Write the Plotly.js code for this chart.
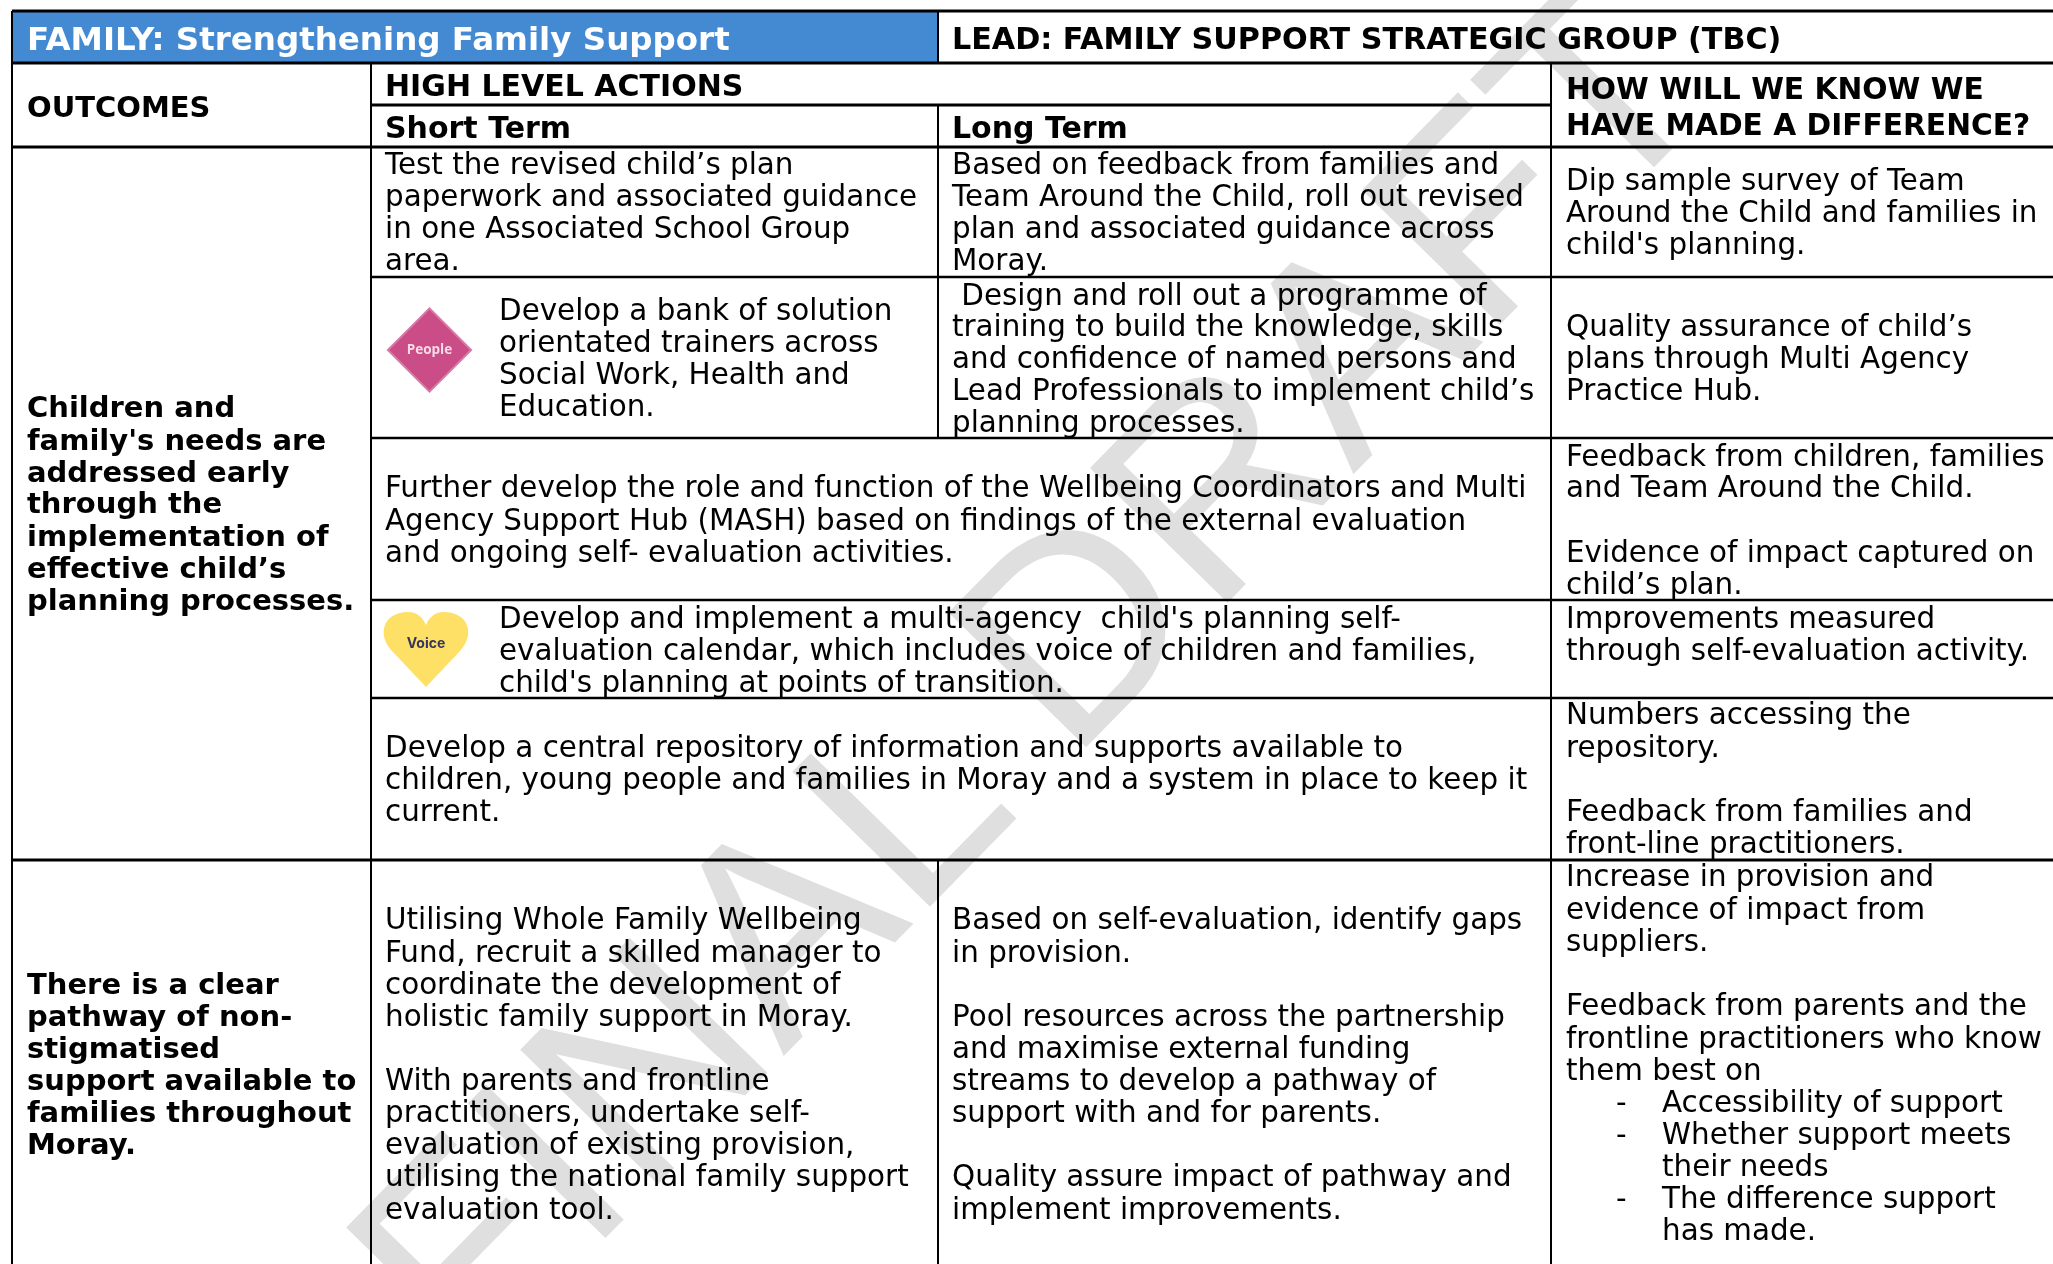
<!DOCTYPE html>
<html>
<head>
<meta charset="utf-8">
<script src="https://cdn.plot.ly/plotly-3.0.1.min.js"></script>
<style>
html,body{margin:0;padding:0;background:#fff}
#chart{width:2053px;height:1264px}
.main-svg:not(:first-child){mix-blend-mode:multiply}
</style>
</head>
<body>
<div id="chart"></div>
<script>
// ---- table text ----
const headerFamily = ["FAMILY: Strengthening Family Support"];
const headerLead = ["LEAD: FAMILY SUPPORT STRATEGIC GROUP (TBC)"];
const headerOutcomes = ["OUTCOMES"];
const headerActions = ["HIGH LEVEL ACTIONS"];
const headerShort = ["Short Term"];
const headerLong = ["Long Term"];
const headerKnow = ["HOW WILL WE KNOW WE", "HAVE MADE A DIFFERENCE?"];
const outcomeChildren = ["Children and", "family's needs are", "addressed early", "through the", "implementation of", "effective child’s", "planning processes."];
const outcomePathway = ["There is a clear", "pathway of non-", "stigmatised", "support available to", "families throughout", "Moray."];
const shortTest = ["Test the revised child’s plan", "paperwork and associated guidance", "in one Associated School Group", "area."];
const longBased = ["Based on feedback from families and", "Team Around the Child, roll out revised", "plan and associated guidance across", "Moray."];
const knowDip = ["Dip sample survey of Team", "Around the Child and families in", "child's planning."];
const shortBank = ["Develop a bank of solution", "orientated trainers across", "Social Work, Health and", "Education."];
const longDesign = ["\u00a0Design and roll out a programme of", "training to build the knowledge, skills", "and confidence of named persons and", "Lead Professionals to implement child’s", "planning processes."];
const knowQuality = ["Quality assurance of child’s", "plans through Multi Agency", "Practice Hub."];
const actionFurther = ["Further develop the role and function of the Wellbeing Coordinators and Multi", "Agency Support Hub (MASH) based on findings of the external evaluation", "and ongoing self- evaluation activities."];
const knowFeedback = ["Feedback from children, families", "and Team Around the Child.", "Evidence of impact captured on", "child’s plan."];
const actionCalendar = ["Develop and implement a multi-agency  child's planning self-", "evaluation calendar, which includes voice of children and families,", "child's planning at points of transition."];
const knowImprove = ["Improvements measured", "through self-evaluation activity."];
const actionRepo = ["Develop a central repository of information and supports available to", "children, young people and families in Moray and a system in place to keep it", "current."];
const knowNumbers = ["Numbers accessing the", "repository.", "Feedback from families and", "front-line practitioners."];
const shortFund = ["Utilising Whole Family Wellbeing", "Fund, recruit a skilled manager to", "coordinate the development of", "holistic family support in Moray.", "With parents and frontline", "practitioners, undertake self-", "evaluation of existing provision,", "utilising the national family support", "evaluation tool."];
const longGaps = ["Based on self-evaluation, identify gaps", "in provision.", "Pool resources across the partnership", "and maximise external funding", "streams to develop a pathway of", "support with and for parents.", "Quality assure impact of pathway and", "implement improvements."];
const knowIncrease = ["Increase in provision and", "evidence of impact from", "suppliers.", "Feedback from parents and the", "frontline practitioners who know", "them best on"];
const knowBullets = ["Accessibility of support", "Whether support meets", "their needs", "The difference support", "has made."];
const bulletDashes = ["-", "-", "-"];
const watermarkText = "FINAL DRAFT";
const iconPeople = "People";
const iconVoice = "Voice";

// ---- layout of the table, in page pixels ----
const X = {left: 12, a: 371, b: 938, c: 1551, right: 2053};
const Y = {top: 11, h1: 63, h2: 105, h3: 147, r1: 277, r2: 438, r3: 600, r4: 698, r5: 860, bottom: 1264};
const BLACK = "#000000";
const FS = 29.4, FS_HEAD = 30, FS_OUT = 29;
const DY = 2.5;
const FONT = "DejaVu Sans";

const blocks = [
  [headerFamily, 27, [39], true, "#ffffff", 32.5],
  [headerLead, 952, [39], true, BLACK, 30.2],
  [headerOutcomes, 27, [107], true, BLACK, FS_OUT],
  [headerActions, 385, [86], true, BLACK, FS_HEAD],
  [headerShort, 385, [128], true, BLACK, FS_HEAD],
  [headerLong, 952, [128], true, BLACK, FS_HEAD],
  [headerKnow, 1566, [89, 125], true, BLACK, 29.7],
  [outcomeChildren, 27, [407, 440, 472, 503, 536, 568, 600], true, BLACK, FS_OUT],
  [outcomePathway, 27, [984, 1016, 1048, 1080, 1112, 1144], true, BLACK, FS_OUT],
  [shortTest, 385, [164, 196, 228, 260]],
  [longBased, 952, [164, 196, 228, 260]],
  [knowDip, 1566, [180, 212, 244]],
  [shortBank, 499, [310, 342, 374, 406]],
  [longDesign, 952, [295, 326, 358, 390, 422]],
  [knowQuality, 1566, [326, 358, 390]],
  [actionFurther, 385, [487, 520, 552]],
  [knowFeedback, 1566, [456, 487, 552, 584]],
  [actionCalendar, 499, [618, 650, 682]],
  [knowImprove, 1566, [618, 650]],
  [actionRepo, 385, [747, 779, 811]],
  [knowNumbers, 1566, [714, 747, 811, 843]],
  [shortFund, 385, [919, 952, 984, 1016, 1080, 1112, 1144, 1176, 1209]],
  [longGaps, 952, [919, 952, 1016, 1048, 1080, 1112, 1176, 1209]],
  [knowIncrease, 1566, [876, 909, 941, 1005, 1038, 1070]],
  [knowBullets, 1662, [1102, 1134, 1166, 1198, 1230]],
  [bulletDashes, 1616, [1102, 1134, 1198]]
];

const traces = blocks.map(([lines, x, ys, bold, color, size]) => ({
  type: "scatter", mode: "text", showlegend: false, hoverinfo: "skip", cliponaxis: false,
  x: ys.map(() => x), y: ys.map(v => v + DY), text: lines, textposition: "middle right",
  textfont: {family: FONT, size: size || FS, color: color || BLACK, weight: bold ? 700 : 400}
}));

// People diamond
traces.unshift({
  type: "scatter", mode: "markers", showlegend: false, hoverinfo: "skip",
  x: [429.5], y: [350],
  marker: {symbol: "diamond", size: 64, color: "#cb4d87", line: {width: 2, color: "#d97aa6"}}
});
traces.push({
  type: "scatter", mode: "text", showlegend: false, hoverinfo: "skip",
  x: [429.5], y: [351], text: [iconPeople], textposition: "middle center",
  textfont: {family: "Open Sans", size: 13.5, color: "#f6dce8", weight: 700}
});
traces.push({
  type: "scatter", mode: "text", showlegend: false, hoverinfo: "skip",
  x: [426], y: [644], text: [iconVoice], textposition: "middle center",
  textfont: {family: "Inter", size: 14, color: "#35355f", weight: 700}
});

function rule(x0, y0, x1, y1, w) {
  return {type: "line", xref: "x", yref: "y", x0, y0, x1, y1, layer: "below", line: {color: BLACK, width: w}};
}
const shapes = [
  {type: "rect", xref: "x", yref: "y", x0: X.left, x1: X.b, y0: Y.top, y1: Y.h1, layer: "below", fillcolor: "#448ad3", line: {width: 0}},
  {type: "path", xref: "x", yref: "y", layer: "below", fillcolor: "#ffe066", line: {width: 0},
   path: "M 426 687 L 392 651 C 376 634 384 612 408 612 C 418 612 423 618 426 625 C 429 618 434 612 444 612 C 468 612 476 634 460 651 Z"},
  rule(X.left, Y.top, X.right, Y.top, 3),
  rule(X.left, Y.h1, X.right, Y.h1, 3),
  rule(X.a, Y.h2, X.c, Y.h2, 3),
  rule(X.left, Y.h3, X.right, Y.h3, 3),
  rule(X.a, Y.r1, X.right, Y.r1, 2.5),
  rule(X.a, Y.r2, X.right, Y.r2, 2.5),
  rule(X.a, Y.r3, X.right, Y.r3, 2.5),
  rule(X.a, Y.r4, X.right, Y.r4, 2.5),
  rule(X.left, Y.r5, X.right, Y.r5, 3),
  rule(X.left, Y.top, X.left, Y.bottom, 2),
  rule(X.a, Y.h1, X.a, Y.bottom, 2),
  rule(X.b, Y.top, X.b, Y.h1, 2),
  rule(X.b, Y.h2, X.b, Y.r2, 2),
  rule(X.b, Y.r5, X.b, Y.bottom, 2),
  rule(X.c, Y.h1, X.c, Y.bottom, 2)
];

const layout = {
  width: 2053, height: 1264, margin: {l: 0, r: 0, t: 0, b: 0},
  paper_bgcolor: "#ffffff", plot_bgcolor: "#ffffff", showlegend: false,
  xaxis: {range: [0, 2053], visible: false, fixedrange: true},
  yaxis: {range: [1264, 0], visible: false, fixedrange: true},
  shapes,
  annotations: [{
    xref: "x", yref: "y", x: 1026, y: 670, text: watermarkText, showarrow: false,
    textangle: -45.6, xanchor: "center", yanchor: "middle",
    font: {family: "Liberation Sans", size: 280, color: "#dfdfdf"}
  }]
};
Plotly.newPlot("chart", traces, layout, {displayModeBar: false, staticPlot: true});
</script>
</body>
</html>
